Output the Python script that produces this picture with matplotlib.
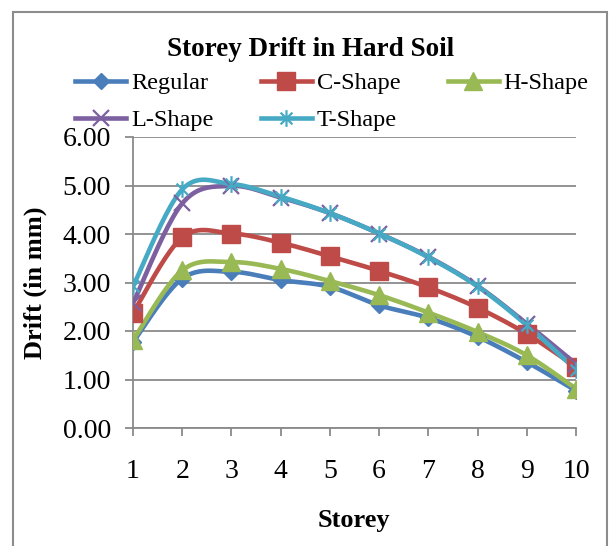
import numpy as np
import matplotlib
matplotlib.use("Agg")
import matplotlib.pyplot as plt
from matplotlib.path import Path
from matplotlib.patches import Rectangle

storeys = [1, 2, 3, 4, 5, 6, 7, 8, 9, 10]
regular = [1.77, 3.08, 3.22, 3.05, 2.91, 2.53, 2.27, 1.88, 1.36, 0.77]
c_shape = [2.37, 3.93, 4.01, 3.82, 3.54, 3.24, 2.90, 2.48, 1.94, 1.26]
h_shape = [1.81, 3.25, 3.42, 3.28, 3.03, 2.74, 2.38, 1.98, 1.50, 0.81]
l_shape = [2.57, 4.63, 4.99, 4.75, 4.43, 4.01, 3.53, 2.93, 2.15, 1.32]
t_shape = [2.92, 4.92, 5.03, 4.77, 4.43, 4.01, 3.52, 2.92, 2.12, 1.20]
y_ticks = [0, 1, 2, 3, 4, 5, 6]

plt.rcParams['font.family'] = ['Liberation Serif', 'DejaVu Serif']

def smooth(x, y, n=24):
    x = np.asarray(x, float); y = np.asarray(y, float)
    P = np.column_stack([x, y])
    out = [P[0]]
    for i in range(len(P) - 1):
        p0 = P[i - 1] if i > 0 else P[i]
        p1 = P[i]; p2 = P[i + 1]
        p3 = P[i + 2] if i + 2 < len(P) else P[i + 1]
        c1 = p1 + (p2 - p0) / 6.0
        c2 = p2 - (p3 - p1) / 6.0
        t = np.linspace(0, 1, n)[1:, None]
        seg = ((1 - t) ** 3) * p1 + 3 * ((1 - t) ** 2) * t * c1 + 3 * (1 - t) * t ** 2 * c2 + t ** 3 * p2
        out.extend(seg)
    out = np.array(out)
    return out[:, 0], out[:, 1]

# asterisk marker (x plus vertical line)
a = 0.7071
star_verts = [(-a, -a), (a, a), (-a, a), (a, -a), (0, -1), (0, 1)]
star_codes = [Path.MOVETO, Path.LINETO, Path.MOVETO, Path.LINETO, Path.MOVETO, Path.LINETO]
star_marker = Path(star_verts, star_codes)

fig = plt.figure(figsize=(6.1, 5.46), dpi=100)
fig.patches.append(Rectangle((13 / 610, -0.01), (607 - 13) / 610, 1 - 12 / 546 + 0.01,
                             transform=fig.transFigure, fill=False,
                             edgecolor='#8c8c8c', linewidth=1.5))

ax = fig.add_axes([133 / 610, 1 - 428 / 546, (576 - 133) / 610, (428 - 137) / 546])

series = [
    ("Regular", regular, '#4A7EBB', dict(marker='D', markersize=8)),
    ("C-Shape", c_shape, '#BE4B48', dict(marker='s', markersize=13)),
    ("H-Shape", h_shape, '#98B954', dict(marker='^', markersize=13)),
    ("L-Shape", l_shape, '#7D60A0', dict(marker='x', markersize=11, markeredgewidth=1.6)),
    ("T-Shape", t_shape, '#46AAC5', dict(marker=star_marker, markersize=12, markeredgewidth=1.6)),
]

handles = {}
for name, vals, col, mk in series:
    sx, sy = smooth(storeys, vals)
    ax.plot(sx, sy, color=col, linewidth=3.3, solid_capstyle='round', zorder=3)
    ax.plot(storeys, vals, linestyle='none', color=col, markerfacecolor=col,
            markeredgecolor=col, zorder=4, **mk)
    h, = ax.plot([], [], color=col, linewidth=3.3, markerfacecolor=col,
                 markeredgecolor=col, **mk)
    handles[name] = h

ax.set_xlim(1, 10)
ax.set_ylim(0, 6)
ax.set_xticks(storeys)
ax.set_xticklabels([str(s) for s in storeys])
ax.set_yticks(y_ticks)
ax.set_yticklabels([f"{v:.2f}" for v in y_ticks])
ax.grid(axis='y', color='#8a8a8a', linewidth=1.3)
ax.set_axisbelow(True)
for s in ['top', 'right']:
    ax.spines[s].set_visible(False)
for s in ['left', 'bottom']:
    ax.spines[s].set_color('#8a8a8a')
    ax.spines[s].set_linewidth(1.3)
ax.tick_params(axis='both', direction='out', length=6, width=1.3, color='#8a8a8a',
               labelsize=20, labelcolor='black')
ax.tick_params(axis='y', pad=10)
ax.tick_params(axis='x', pad=16)
for lab in ax.get_xticklabels() + ax.get_yticklabels():
    lab.set_clip_on(False)
ax.margins(0)

fig.text(35 / 610, 1 - 283 / 546, "Drift (in mm)", rotation=90, ha='center', va='center',
         fontsize=19, fontweight='bold')
fig.text(354 / 610, 1 - 520 / 546, "Storey", ha='center', va='center',
         fontsize=19, fontweight='bold')
fig.text(311 / 610, 1 - 50 / 546, "Storey Drift in Hard Soil", ha='center', va='center',
         fontsize=19.5, fontweight='bold')

order = ["Regular", "L-Shape", "C-Shape", "T-Shape", "H-Shape"]
leg = fig.legend([handles[n] for n in order], order, ncol=3, frameon=False,
                 loc='upper left', bbox_to_anchor=(75 / 610, 1 - 72 / 546),
                 fontsize=17.5, handlelength=2.1, handletextpad=0.2,
                 columnspacing=1.95, labelspacing=0.62, borderpad=0, borderaxespad=0)

fig.savefig("out.png", dpi=100)
